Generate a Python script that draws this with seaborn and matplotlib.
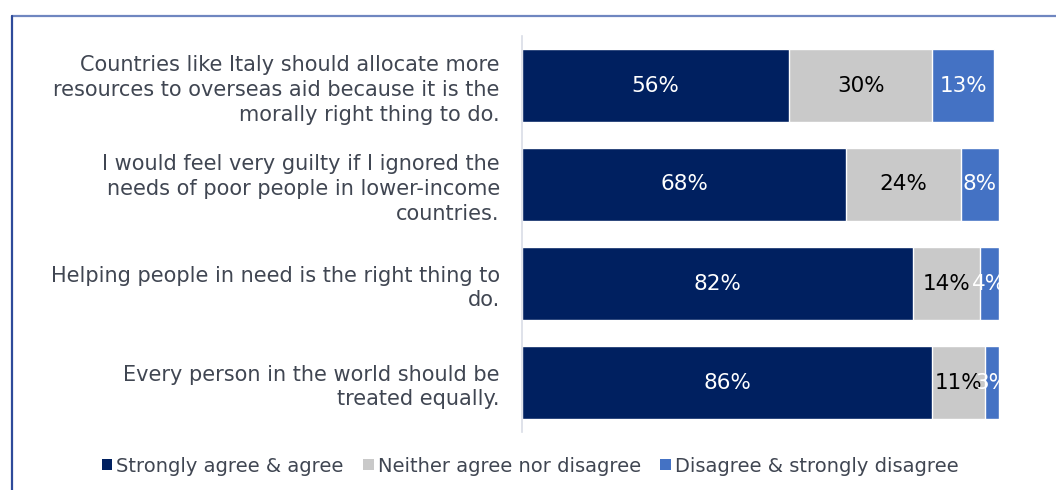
import matplotlib
matplotlib.use("Agg")
import matplotlib.pyplot as plt
from matplotlib.lines import Line2D
from matplotlib.patches import Patch
import seaborn as sns
import pandas as pd
import numpy as np

statements = [
    "Countries like Italy should allocate more\nresources to overseas aid because it is the\nmorally right thing to do.",
    "I would feel very guilty if I ignored the\nneeds of poor people in lower-income\ncountries.",
    "Helping people in need is the right thing to\ndo.",
    "Every person in the world should be\ntreated equally.",
]
agree = [56, 68, 82, 86]
neither = [30, 24, 14, 11]
disagree = [13, 8, 4, 3]

series_names = ["Strongly agree & agree", "Neither agree nor disagree",
                "Disagree & strongly disagree"]
colors = ["#002060", "#C9C9C9", "#4472C4"]
label_colors = ["white", "black", "white"]

sns.set_theme(style="white")
plt.rcParams["font.family"] = ["DejaVu Sans"]

fig = plt.figure(figsize=(10.56, 4.9), dpi=100)
ax = fig.add_axes([522 / 1056, 1 - 432 / 490, 477 / 1056, 396 / 490])

df = pd.DataFrame({"statement": statements, "agree": agree,
                   "neither": neither, "disagree": disagree})
df["c1"] = df["agree"]
df["c2"] = df["agree"] + df["neither"]
df["c3"] = df["c2"] + df["disagree"]

# Draw cumulative layers back to front so each segment shows its own share
for col, color in zip(["c3", "c2", "c1"], colors[::-1]):
    sns.barplot(data=df, x=col, y="statement", color=color, width=0.74,
                saturation=1, ax=ax, orient="h")

vals = [agree, neither, disagree]
for i in range(len(statements)):
    left = 0
    for s in range(3):
        v = vals[s][i]
        ax.text(left + v / 2, i, f"{v}%", ha="center", va="center",
                color=label_colors[s], fontsize=15.5)
        left += v

ax.set_xlim(0, 100)
ax.set_ylim(3.5, -0.5)
ax.set_xlabel("")
ax.set_ylabel("")
ax.set_xticks([])
ax.set_yticks(range(len(statements)))
ax.set_yticklabels(statements, fontsize=15, color="#404652",
                   linespacing=1.3)
ax.tick_params(axis="y", length=0, pad=16)
for side in ["top", "right", "bottom"]:
    ax.spines[side].set_visible(False)
ax.spines["left"].set_color("#D9DDE6")
ax.spines["left"].set_linewidth(1.2)

handles = [Patch(facecolor=c, edgecolor="none") for c in colors]
fig.legend(handles, series_names, loc="center", bbox_to_anchor=(530 / 1056, 1 - 466 / 490),
           ncol=3, frameon=False, fontsize=14, handlelength=0.55,
           handleheight=0.55, handletextpad=0.2, columnspacing=1.0,
           labelcolor="#404652")

# Frame lines along the top and left edge of the figure
fig.add_artist(Line2D([12 / 1056, 1.0], [1 - 16 / 490, 1 - 16 / 490],
                      color="#6F86C0", linewidth=1.6, transform=fig.transFigure))
fig.add_artist(Line2D([12 / 1056, 12 / 1056], [0, 1 - 16 / 490],
                      color="#2E4A9A", linewidth=1.6, transform=fig.transFigure))

fig.savefig("out.png", dpi=100)
